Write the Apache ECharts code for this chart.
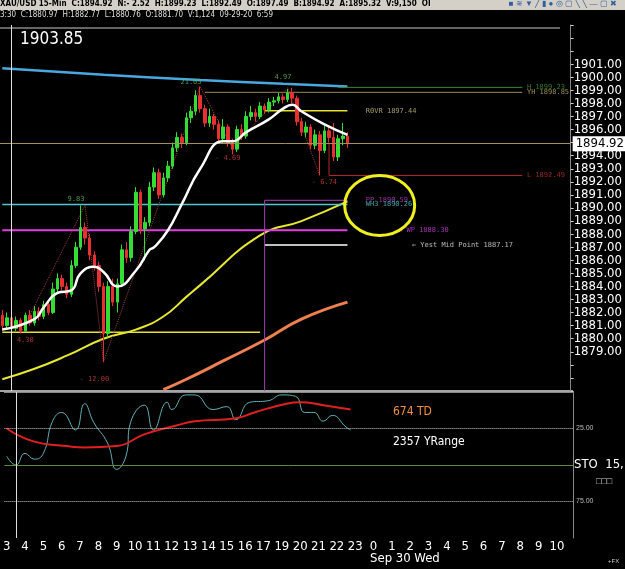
<!DOCTYPE html>
<html><head><meta charset="utf-8">
<script src="https://cdn.jsdelivr.net/npm/echarts@6/dist/echarts.min.js"></script>
<style>html,body{margin:0;padding:0;background:#000;}#c{width:625px;height:569px;}</style>
</head><body><div id="c"></div>
<script>
const hours=[3,4,5,6,7,8,9,10,11,12,13,14,15,16,17,19,20,21,22,23,0,1,2,3,4,5,6,7,8,9,10];
const categories=[];hours.forEach((h,i)=>{['00','15','30','45'].forEach(m=>categories.push((i>19?'d2 ':'')+h+':'+m));});
// [open, close, low, high]
const candles=[
[1881.8,1881.0,1880.6,1882.2],[1881.0,1881.6,1880.8,1882.0],[1881.6,1880.8,1880.5,1881.9],[1880.8,1881.4,1880.6,1881.7],
[1881.4,1880.6,1880.4,1881.6],[1880.6,1881.8,1880.5,1882.0],[1881.8,1881.2,1881.0,1882.2],[1881.2,1882.1,1881.0,1882.5],
[1882.1,1881.7,1881.4,1882.4],[1881.7,1882.6,1881.5,1882.9],[1882.6,1882.0,1881.8,1882.8],[1882.0,1883.8,1881.9,1884.3],
[1883.8,1884.6,1883.5,1885.0],[1884.6,1884.0,1883.7,1884.9],[1884.0,1883.4,1883.1,1884.3],[1883.4,1885.6,1883.2,1886.0],
[1885.6,1887.0,1885.4,1887.4],[1887.0,1888.5,1886.8,1890.2],[1888.5,1887.7,1887.2,1888.9],[1887.7,1886.4,1886.0,1888.0],
[1886.4,1885.6,1885.2,1886.7],[1885.6,1884.0,1883.6,1885.9],[1884.0,1880.4,1878.2,1884.3],[1880.4,1884.0,1880.1,1884.4],
[1884.0,1882.8,1882.5,1884.6],[1882.8,1884.2,1882.0,1884.6],[1884.2,1886.8,1884.0,1887.2],[1886.8,1886.2,1885.8,1887.4],
[1886.2,1888.2,1885.9,1888.6],[1888.2,1891.2,1888.0,1891.6],[1891.2,1888.4,1888.0,1891.4],[1888.4,1888.9,1886.0,1889.3],
[1888.9,1891.6,1888.6,1892.0],[1891.6,1892.7,1891.3,1893.1],[1892.7,1891.0,1890.7,1893.0],[1891.0,1892.3,1890.8,1892.7],
[1892.3,1893.2,1892.0,1893.6],[1893.2,1894.6,1893.0,1895.0],[1894.6,1895.4,1894.3,1895.8],[1895.4,1895.0,1894.6,1895.7],
[1895.0,1896.9,1894.8,1897.3],[1896.9,1897.4,1896.5,1897.8],[1897.4,1898.6,1897.1,1899.0],[1898.6,1897.6,1897.3,1899.3],
[1897.6,1896.5,1896.2,1897.9],[1896.5,1897.0,1896.2,1897.6],[1897.0,1896.4,1896.0,1897.2],[1896.4,1895.3,1895.0,1896.7],
[1895.3,1896.2,1895.0,1896.8],[1896.2,1895.0,1894.7,1896.4],[1895.0,1894.5,1894.1,1895.3],[1894.5,1896.0,1894.3,1896.3],
[1896.0,1895.5,1895.2,1896.4],[1895.5,1897.0,1895.3,1897.4],[1897.0,1897.3,1896.7,1897.8],[1897.3,1897.0,1896.6,1897.6],
[1897.0,1897.8,1896.8,1898.1],[1897.8,1897.5,1897.2,1898.0],[1897.5,1898.1,1897.3,1898.4],[1898.1,1898.2,1897.8,1898.5],
[1898.2,1898.5,1898.0,1898.8],[1898.5,1898.3,1898.0,1898.7],[1898.3,1898.8,1898.1,1899.1],[1898.8,1898.4,1898.0,1899.2],
[1898.4,1896.6,1896.3,1898.6],[1896.6,1895.8,1895.5,1896.9],[1895.8,1896.2,1895.4,1896.6],[1896.2,1894.8,1894.5,1896.4],
[1894.8,1895.6,1894.5,1896.0],[1895.6,1894.4,1892.5,1895.9],[1894.4,1895.9,1894.2,1896.3],[1895.9,1895.4,1895.0,1896.2],
[1895.4,1893.9,1893.6,1896.5],[1893.9,1895.3,1893.6,1895.6],[1895.3,1895.5,1894.8,1896.5],[1895.5,1894.92,1894.6,1895.8]];
const whiteMA=[[0,1880.7],[7,1881.5],[9,1882.4],[12,1883.5],[15,1883.7],[17,1885.0],[20,1885.5],[22,1885.1],[25,1884.0],[29,1885.2],[32,1886.8],[33,1887.0],[36,1888.3],[39,1890.3],[43,1893.0],[48,1895.1],[50,1895.1],[53,1895.8],[58,1896.8],[61,1897.6],[63,1897.9],[65,1897.4],[70,1896.4],[75,1895.6]];
const yellowMA=[[0,1876.9],[7,1877.7],[14,1878.7],[22,1880.0],[29,1880.7],[35,1881.7],[40,1883.2],[43,1884.1],[56,1887.9],[65,1889.0],[75,1890.5]];
const orangeMA=[[35,1876.1],[40,1876.9],[48,1878.3],[57,1879.9],[65,1881.5],[75,1882.8]];
const blueMA=[[0,1900.7],[22,1900.2],[43,1899.8],[61,1899.5],[75,1899.3]];
const swings=[[4,1880.4],[18,1890.23],[22,1878.23],[43,1899.28],[50,1894.59],[62,1899.2],[69,1892.46]];
const swingLabels=[[16,1890.7,'9.83','#5fbf5f'],[41,1899.6,'21.05','#5fbf5f'],[61,1900.0,'4.97','#5fbf5f'],[49,1893.8,'- 4.69','#d04040'],[70,1892.0,'- 6.74','#d04040'],[5,1879.9,'4.30','#d04040'],[20,1876.9,'- 12.00','#d04040']];
// [from, to, price, color, width, label, labelIdx]
const levels=[
[73,113,1899.23,'#3a8a3a',1,'H 1899.23',114],
[44,113,1898.85,'#9a8a5a',1,'YH 1898.85',114],
[57,75,1897.44,'#e8e030',1.5,'R0VR 1897.44',79],
[71,113,1892.49,'#b02a2a',1,'L 1892.49',114],
[57,75,1890.59,'#b040c0',1,'PP 1890.59',79],
[0,75,1890.26,'#50c8d0',1.5,'WH3 1890.26',79],
[0,75,1888.30,'#e040e0',2,'◄ WP 1888.30',86],
[57,75,1887.17,'#ffffff',1.5,'← Yest Mid Point 1887.17',89],
[0,56,1880.5,'#e8e030',1.5,'',0]];
const levelLabelColors={'H 1899.23':'#3a9a3a','YH 1898.85':'#c0b060','R0VR 1897.44':'#c8c080','L 1892.49':'#c03030','PP 1890.59':'#c040d0','WH3 1890.26':'#50c8d0','◄ WP 1888.30':'#d040e0','← Yest Mid Point 1887.17':'#e0e0e0'};
const stochK=[[0,44],[2,50],[4,42],[6,46],[8,42],[10,20],[12,14],[15,26],[17,8],[19,21],[22,35],[24,53],[26,44],[27,21],[30,9],[32,26],[35,7],[36,12],[39,2],[41,2],[45,12],[48,10],[50,19],[53,7],[57,6],[60,2],[63,3],[65,14],[67,14],[69,20],[71,16],[74,24],[75,26]];
const stochD=[[0,25],[6,34],[13,37],[17,38],[24,37],[30,29],[37,23],[41,20],[50,18],[54,14],[61,8],[64,7],[69,9],[75,12]];
const lastPrice=1894.92;

const chart=echarts.init(document.getElementById('c'));
const mono='DejaVu Sans Mono';
const series=[];
series.push({type:'line',data:blueMA,smooth:true,symbol:'none',lineStyle:{color:'#4aa8e0',width:2.5},z:2});
series.push({type:'line',data:orangeMA,smooth:true,symbol:'none',lineStyle:{color:'#f08050',width:3},z:2});
series.push({type:'line',data:yellowMA,smooth:true,symbol:'none',lineStyle:{color:'#e8e830',width:2},z:2});
levels.forEach(l=>{
  series.push({type:'line',symbol:'none',data:[[l[0],l[2]],[l[1],l[2]]],lineStyle:{color:l[3],width:l[4]},z:3});
  if(l[5]) series.push({type:'scatter',symbolSize:0,data:[[l[6],l[2]]],label:{show:true,position:'right',distance:0,formatter:l[5],color:levelLabelColors[l[5]],fontFamily:mono,fontSize:7},z:6});
});
series.push({type:'line',symbol:'none',data:[[71,1894.9],[71,1892.49]],lineStyle:{color:'#b02a2a',width:1}});
series.push({type:'line',symbol:'none',data:[[57,1890.59],[57,1876]],lineStyle:{color:'#a040b0',width:1}});
series.push({type:'line',symbol:'none',data:swings,lineStyle:{color:'#a04040',width:1,type:'dotted'},z:3});
series.push({type:'candlestick',data:candles,barWidth:3,itemStyle:{color:'#33dd33',color0:'#e83030',borderColor:'#33dd33',borderColor0:'#e83030',borderWidth:1},z:4,
  markLine:{symbol:'none',silent:true,animation:false,data:[
    {yAxis:lastPrice,lineStyle:{color:'#a09060',width:1,type:'solid'},label:{show:true,position:'end',distance:2,formatter:'1894.92',backgroundColor:'#fff',color:'#000',fontSize:13,padding:[1,3],fontFamily:'Liberation Sans Narrow, DejaVu Sans Condensed, sans-serif'}},
    {xAxis:2,lineStyle:{color:'#ddd',width:1,type:'solid'},label:{show:false}}]}});
series.push({type:'line',data:whiteMA,smooth:true,symbol:'none',lineStyle:{color:'#ffffff',width:2.5},z:5});
swingLabels.forEach(s=>series.push({type:'scatter',symbolSize:0,data:[[s[0],s[1]]],label:{show:true,position:'inside',formatter:s[2],color:s[3],fontFamily:mono,fontSize:7},z:6}));
series.push({type:'line',xAxisIndex:1,yAxisIndex:1,data:stochK,smooth:true,symbol:'none',lineStyle:{color:'#60b0b8',width:1},
  markLine:{symbol:'none',silent:true,animation:false,label:{show:false},data:[
    {yAxis:25,lineStyle:{color:'#ccc',type:'dotted',width:1}},{yAxis:75,lineStyle:{color:'#ccc',type:'dotted',width:1}},
    {yAxis:50,lineStyle:{color:'#5a8a3a',type:'solid',width:1}},{xAxis:2,lineStyle:{color:'#ddd',type:'solid',width:1}}]}});
series.push({type:'line',xAxisIndex:1,yAxisIndex:1,data:stochD,smooth:true,symbol:'none',lineStyle:{color:'#e02020',width:2}});

const axFont='Liberation Sans Narrow, DejaVu Sans Condensed, sans-serif';
const graphics=[
    {id:'hdr',type:'rect',shape:{x:0,y:0,width:625,height:10},style:{fill:'#d4d0c8'}},
    {id:'t1',type:'text',left:0,top:0,style:{text:'XAU/USD 15-Min  C:1894.92  N:- 2.52  H:1899.23  L:1892.49  O:1897.49  B:1894.92  A:1895.32  V:9,150  OI',fill:'#000',font:'bold 8px '+axFont}},
    {id:'t2',type:'text',right:8,top:0,style:{text:'■ ≋ ▼ ╱ ▮ ● ◎ ▢ ╲ ╲ — ▢ ✖',fill:'#3060a0',font:'8px sans-serif'}},
    {id:'t3',type:'text',left:0,top:11,style:{text:'3:30  C:1880.97  H:1882.77  L:1880.76  O:1881.70  V:1,124  09-29-20  6:59',fill:'#ddd',font:'8px '+axFont}},
    {id:'l1',type:'line',shape:{x1:0,y1:28,x2:560,y2:28},style:{stroke:'#ccc',lineWidth:1}},
    {id:'l2',type:'line',shape:{x1:0,y1:391,x2:573,y2:391},style:{stroke:'#ddd',lineWidth:1.5}},
    {id:'t4',type:'text',left:20,top:31,style:{text:'1903.85',fill:'#fff',font:'17px '+axFont}},
    {id:'t5',type:'text',left:393,top:406,style:{text:'674 TD',fill:'#f09040',font:'12px '+axFont}},
    {id:'t6',type:'text',left:393,top:436,style:{text:'2357 YRange',fill:'#fff',font:'12px '+axFont}},
    {id:'t7',type:'text',left:574,top:458,style:{text:'STO  15,',fill:'#fff',font:'13px '+axFont}},
    {id:'t8',type:'text',left:370,top:552,style:{text:'Sep 30 Wed',fill:'#fff',font:'13px '+axFont}},
    {id:'t9',type:'text',left:596,top:477,style:{text:'□□□',fill:'#ccc',font:'9px sans-serif'}},
    {id:'t10',type:'text',left:608,top:558,style:{text:'+FX',fill:'#ccc',font:'6px sans-serif'}}];
chart.setOption({
  backgroundColor:'#000',animation:false,
  grid:[{left:0,right:52,top:25,height:366},{left:0,right:52,top:392,height:146}],
  xAxis:[
    {type:'category',data:categories,gridIndex:0,axisLine:{show:false},axisTick:{show:false},axisLabel:{show:false}},
    {type:'category',data:categories,gridIndex:1,axisLine:{lineStyle:{color:'#888'}},axisTick:{show:false},
     axisLabel:{color:'#fff',fontSize:13,fontFamily:axFont,interval:0,margin:2,formatter:v=>v.endsWith(':00')?v.replace('d2 ','').split(':')[0]:''}}],
  yAxis:[
    {type:'value',gridIndex:0,position:'right',min:1876,max:1904,interval:1,splitLine:{show:false},
     axisLine:{show:true,lineStyle:{color:'#888'}},axisTick:{show:true,length:3,lineStyle:{color:'#ccc'}},
     axisLabel:{color:'#fff',fontSize:13,fontFamily:axFont,margin:3,formatter:v=>(v>=1879&&v<=1901)?v.toFixed(2):''}},
    {type:'value',gridIndex:1,position:'right',min:0,max:100,inverse:true,interval:25,splitLine:{show:false},
     axisLine:{show:true,lineStyle:{color:'#888'}},axisTick:{show:false},
     axisLabel:{color:'#bbb',fontSize:7,margin:3,formatter:v=>(v===25||v===75)?v.toFixed(2):''}}],
  series:series,
  graphic:graphics
});
const c=chart.convertToPixel({xAxisIndex:0,yAxisIndex:0},[82,1890.2]);
chart.setOption({graphic:[{id:'ell',type:'ellipse',shape:{cx:c[0],cy:c[1],rx:35,ry:30},style:{stroke:'#f0f020',lineWidth:3,fill:'none'},z:10}]});
</script></body></html>
